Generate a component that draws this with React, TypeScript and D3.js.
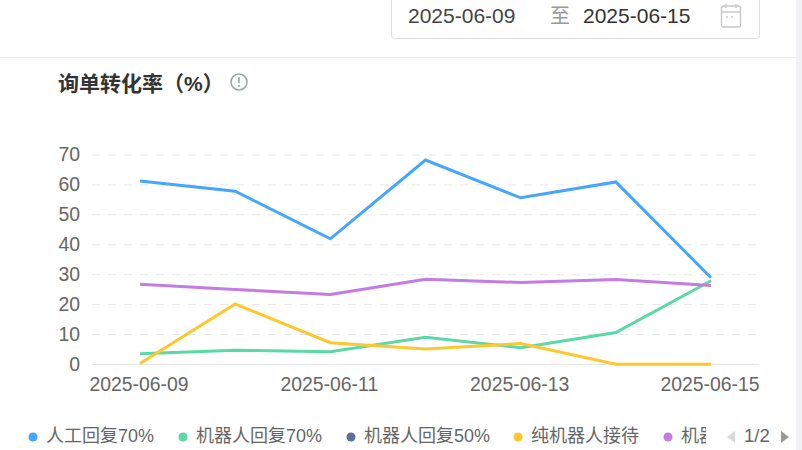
import * as d3 from "d3";

const dates = ["2025-06-09", "2025-06-10", "2025-06-11", "2025-06-12", "2025-06-13", "2025-06-14", "2025-06-15"];
const xLabels = ["2025-06-09", "2025-06-11", "2025-06-13", "2025-06-15"];
const yTicks = [0, 10, 20, 30, 40, 50, 60, 70];

const human70 = [61.3, 57.9, 42, 68.3, 55.7, 61, 29];
const robot70 = [3.6, 4.8, 4.3, 9.1, 5.6, 10.7, 28];
const pureRobot = [0.3, 20.2, 7.3, 5.2, 7, 0.1, 0.1];
const robotOther = [26.8, 25.1, 23.4, 28.5, 27.4, 28.4, 26.4];

// the fifth name is cut off in the legend, only its start can be read
const seriesNames = ["人工回复70%", "机器人回复70%", "机器人回复50%", "纯机器人接待", "机器人"];
const seriesColors = ["#45a5ff", "#5ad8a6", "#5d7092", "#ffc72e", "#c27ce4"];
const legendX = [33, 183, 351, 518, 668];

const fontStack = "'Liberation Sans', 'Noto Sans CJK SC', sans-serif";

export default function App() {
  const x = d3.scalePoint<string>().domain(dates).range([140, 711]);
  const y = d3.scaleLinear().domain([0, 70]).range([364.5, 155]);
  const line = d3
    .line<number>()
    .x((_, i) => x(dates[i]) as number)
    .y((d) => y(d));

  const lines = [
    { values: human70, color: seriesColors[0] },
    { values: robot70, color: seriesColors[1] },
    { values: robotOther, color: seriesColors[4] },
    { values: pureRobot, color: seriesColors[3] },
  ];

  return (
    <svg
      width={802}
      height={450}
      style={{ position: "fixed", left: 0, top: 0, fontFamily: fontStack, background: "#fff" }}
    >
      <defs>
        <clipPath id="legend-clip">
          <rect x={0} y={420} width={706} height={30} />
        </clipPath>
      </defs>

      {/* page scrollbar strip */}
      <rect x={796} y={0} width={6} height={450} fill="#f0f2f5" />

      {/* date picker */}
      <rect x={391.5} y={-6} width={368} height={44.5} rx={3} fill="#fff" stroke="#dcdee2" />
      <text x={408} y={23} fontSize={21} fill="#444">2025-06-09</text>
      <text x={550} y={23} fontSize={20} fill="#999">至</text>
      <text x={583} y={23} fontSize={21} fill="#333">2025-06-15</text>
      <g fill="none" stroke="#c5c8ca" strokeWidth={1.4}>
        <rect x={721.5} y={6} width={19} height={21} rx={2} />
        <line x1={721.5} x2={740.5} y1={12} y2={12} />
        <line x1={726} x2={726} y1={4} y2={8} />
        <line x1={736} x2={736} y1={4} y2={8} />
        <line x1={726} x2={736} y1={17} y2={17} strokeDasharray="2 3" />
      </g>
      <line x1={0} x2={796} y1={57.5} y2={57.5} stroke="#ebedf0" />

      {/* title */}
      <text x={58} y={91} fontSize={21} fontWeight={700} fill="#333">询单转化率（%）</text>
      <g>
        <circle cx={239} cy={82} r={8} fill="none" stroke="#9aa8a5" strokeWidth={1.6} />
        <line x1={239} x2={239} y1={77} y2={83} stroke="#9aa8a5" strokeWidth={1.6} />
        <circle cx={239} cy={86} r={1} fill="#9aa8a5" />
      </g>

      {/* y axis */}
      {yTicks.map((t) => (
        <g key={t}>
          <line
            x1={92}
            x2={759}
            y1={y(t)}
            y2={y(t)}
            stroke="#e6e6e6"
            strokeDasharray={t === 0 ? undefined : "8 8"}
          />
          <text x={80} y={y(t) + 6} textAnchor="end" fontSize={19.4} fill="#666">
            {t}
          </text>
        </g>
      ))}

      {/* x axis */}
      {xLabels.map((d) => (
        <text key={d} x={x(d)! - 1} y={391} textAnchor="middle" fontSize={19.4} fill="#666">
          {d}
        </text>
      ))}

      {/* lines */}
      {lines.map((s) => (
        <path key={s.color} d={line(s.values) ?? ""} fill="none" stroke={s.color} strokeWidth={3} />
      ))}

      {/* legend */}
      <g clipPath="url(#legend-clip)">
        {seriesNames.map((name, i) => (
          <g key={name}>
            <circle cx={legendX[i]} cy={437} r={4.5} fill={seriesColors[i]} />
            <text x={legendX[i] + 13} y={442} fontSize={18} fill="#666">
              {name}
            </text>
          </g>
        ))}
      </g>
      <path d="M727 437 L735 431 L735 443 Z" fill="#d9d9d9" />
      <text x={744} y={442} fontSize={18.5} fill="#666">1/2</text>
      <path d="M789 437 L781 431 L781 443 Z" fill="#999" />
    </svg>
  );
}
